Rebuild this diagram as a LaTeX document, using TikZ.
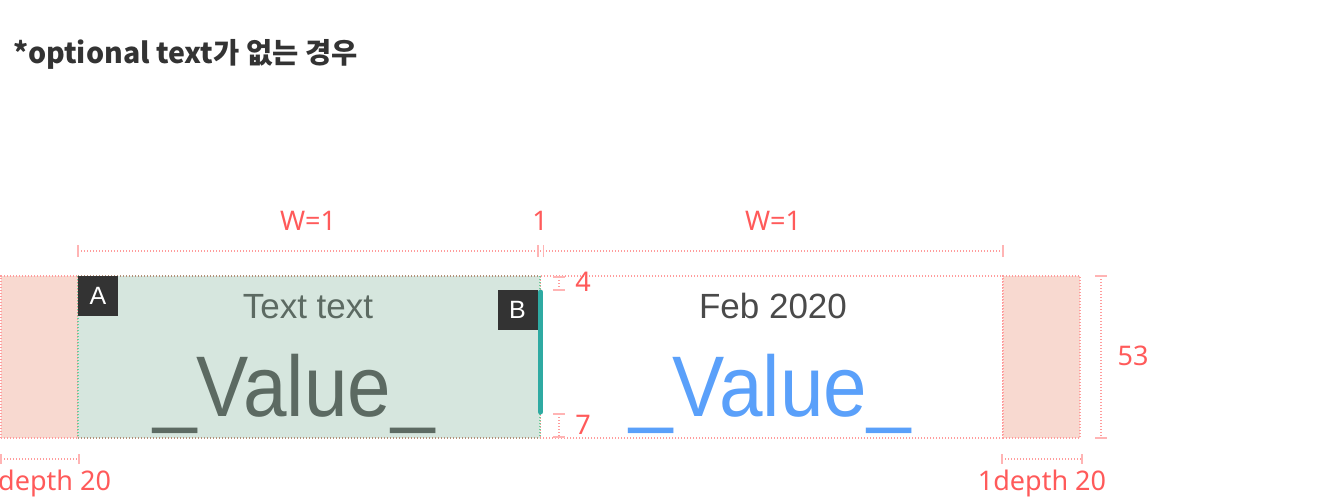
\documentclass[tikz,border=0pt]{standalone}
\usepackage{fontspec}
\setmainfont{Liberation Sans}
\newfontfamily\krfont{Noto Sans CJK KR}
\newfontfamily\dimfont{Noto Sans}
\newfontfamily\valfont{Liberation Sans}
\newfontfamily\bigvalfont{Liberation Sans}[FakeStretch=0.91]
\definecolor{dimpink}{HTML}{FF9C9C}
\definecolor{tickpink}{HTML}{FFB4B4}
\definecolor{dimred}{HTML}{FF5A5A}
\definecolor{boxpink}{HTML}{F8D9D0}
\definecolor{boxgreen}{HTML}{D6E6DE}
\definecolor{edgebrown}{HTML}{B38F78}
\definecolor{edgegreen}{HTML}{6CCB98}
\definecolor{tealbar}{HTML}{2EAAA2}
\definecolor{darkbox}{HTML}{333333}
\definecolor{graytext}{HTML}{5C6A62}
\definecolor{febtext}{HTML}{4A4A4A}
\definecolor{bluetext}{HTML}{5AA0FA}
\definecolor{titletext}{HTML}{333333}
\begin{document}
\begin{tikzpicture}[x=1pt,y=-1pt,
  dotline/.style={draw=dimpink, line width=1.2pt, dash pattern=on 1.4pt off 1.6pt},
  tickline/.style={draw=tickpink, line width=1.3pt},
  region/.style={inner sep=0pt, outer sep=0pt, anchor=north west},
  labelbox/.style={region, fill=darkbox, minimum width=40pt, minimum height=40pt, text=white, font=\valfont\fontsize{25}{25}\selectfont},
  dimlabel/.style={anchor=base, text=dimred, inner sep=0pt, font=\dimfont\fontsize{27}{27}\selectfont},
  smalltext/.style={anchor=base, inner sep=0pt, font=\valfont\fontsize{35}{35}\selectfont},
  bigtext/.style={anchor=base, inner sep=0pt, font=\bigvalfont\fontsize{86}{86}\selectfont}
]
\useasboundingbox (0,0) rectangle (1340,496);

% title
\node[anchor=base west, inner sep=0pt, text=titletext, font=\krfont\bfseries\fontsize{28.5}{28.5}\selectfont] (title) at (13,63) {*optional text가 없는 경우};

% regions
\node[region, minimum width=463pt, minimum height=162pt, dotline] (rb) at (540,276) {};
\node[region, minimum width=77pt, minimum height=162pt, fill=boxpink, dotline] (lp) at (1,276) {};
\node[region, minimum width=77pt, minimum height=162pt, fill=boxpink, dotline] (rp) at (1003,276) {};
\node[region, minimum width=462pt, minimum height=162pt, fill=boxgreen] (gb) at (78,276) {};
\draw[draw=edgebrown, line width=1.2pt, dash pattern=on 1.4pt off 1.6pt] (gb.north west) -- (gb.north east);
\draw[draw=edgebrown, line width=1.2pt, dash pattern=on 1.4pt off 1.6pt] (gb.south west) -- (gb.south east);
\draw[draw=edgegreen, line width=1.2pt, dash pattern=on 1.4pt off 1.6pt] (gb.north west) -- (gb.south west);
\draw[draw=edgegreen, line width=1.2pt, dash pattern=on 1.4pt off 1.6pt] (gb.north east) -- (gb.south east);

% teal bar
\coordinate (t1) at (540.5,292);
\coordinate (t2) at (540.5,412);
\draw[draw=tealbar, line width=5pt, line cap=round] (t1) -- (t2);

% A and B
\node[labelbox] (A) at (78,276) {A};
\node[labelbox] (B) at (497.5,290) {B};

% texts
\node[smalltext, text=graytext] (tt) at (308,318) {Text text};
\node[bigtext, text=graytext] (v1) at (294,416) {\_Value\_};
\node[smalltext, text=febtext] (feb) at (773,318) {Feb 2020};
\node[bigtext, text=bluetext] (v2) at (770,416) {\_Value\_};

% top dimension
\coordinate (d1) at (78,251);
\coordinate (d2) at (538,251);
\coordinate (d3) at (543.5,251);
\coordinate (d4) at (1003,251);
\draw[dotline] (d1) -- (d4);
\foreach \c in {d1,d2,d3,d4} {\draw[tickline] ([yshift=-6pt]\c) -- ([yshift=6pt]\c);}
\node[dimlabel] (w1) at (308,230) {W=1};
\node[dimlabel] (g1) at (540,230) {1};
\node[dimlabel] (w2) at (773,230) {W=1};

% 4 and 7
\coordinate (f1) at (559,277);
\coordinate (f2) at (559,290);
\draw[dotline] (f1) -- (f2);
\foreach \c in {f1,f2} {\draw[tickline] ([xshift=-6pt]\c) -- ([xshift=6pt]\c);}
\node[dimlabel] (n4) at (583,291) {4};
\coordinate (s1) at (559,414);
\coordinate (s2) at (559,437);
\draw[dotline] (s1) -- (s2);
\foreach \c in {s1,s2} {\draw[tickline] ([xshift=-6pt]\c) -- ([xshift=6pt]\c);}
\node[dimlabel] (n7) at (583,434) {7};

% 53
\coordinate (h1) at (1101,276);
\coordinate (h2) at (1101,438);
\draw[dotline] (h1) -- (h2);
\foreach \c in {h1,h2} {\draw[tickline] ([xshift=-6pt]\c) -- ([xshift=6pt]\c);}
\node[dimlabel] (n53) at (1133,365) {53};

% bottom dims
\coordinate (b1) at (1,459);
\coordinate (b2) at (79,459);
\draw[dotline] (b1) -- (b2);
\foreach \c in {b1,b2} {\draw[tickline] ([yshift=-5pt]\c) -- ([yshift=5pt]\c);}
\node[dimlabel, anchor=base west] (dl) at (-2,490) {depth 20};
\coordinate (b3) at (1002,459);
\coordinate (b4) at (1082,459);
\draw[dotline] (b3) -- (b4);
\foreach \c in {b3,b4} {\draw[tickline] ([yshift=-5pt]\c) -- ([yshift=5pt]\c);}
\node[dimlabel] (dr) at (1042,490) {1depth 20};
\end{tikzpicture}
\end{document}
